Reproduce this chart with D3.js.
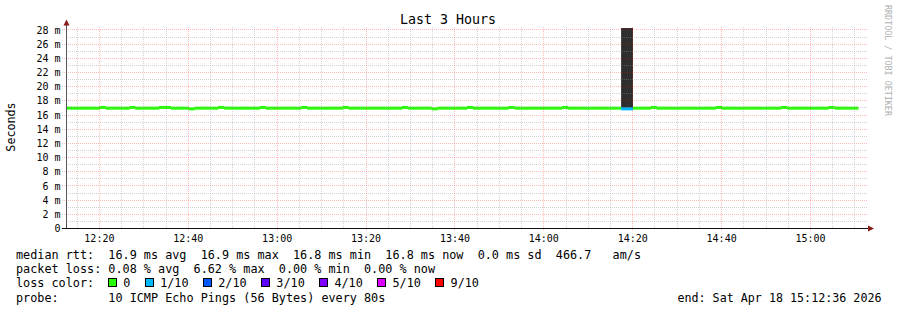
<!DOCTYPE html>
<html>
<head>
<meta charset="utf-8">
<script src="https://cdn.jsdelivr.net/npm/d3@7"></script>
<style>
  body { margin: 0; background: #fff; }
  svg text { font-family: "DejaVu Sans Mono", monospace; white-space: pre; }
</style>
</head>
<body>
<svg id="chart" width="897" height="310"></svg>
<script>
// time window shown (3 hours ending at 15:12:36)
var windowStart = new Date(2026, 3, 18, 12, 12, 36);
var windowEnd = new Date(2026, 3, 18, 15, 12, 36);

// first sample time and step (seconds)
var firstSample = new Date(2026, 3, 18, 12, 12, 10);
var stepSeconds = 80;

// median rtt per step, in ms
var median = [
  16.9, 16.9, 16.9, 16.9, 16.9, 16.9, 17.0, 16.9, 16.9, 16.9,
  16.9, 17.0, 16.9, 16.9, 16.9, 16.9, 17.0, 17.0, 16.9, 16.9,
  16.9, 16.8, 16.9, 16.9, 16.9, 16.9, 17.0, 16.9, 16.9, 16.9,
  16.9, 16.9, 16.9, 17.0, 16.9, 16.9, 16.9, 16.9, 16.9, 16.9,
  17.0, 16.9, 16.9, 16.9, 16.9, 16.9, 16.9, 17.0, 16.9, 16.9,
  16.9, 16.9, 16.9, 16.9, 16.9, 16.9, 16.9, 17.0, 16.9, 16.9,
  16.9, 16.9, 16.8, 16.9, 16.9, 16.9, 16.9, 16.9, 17.0, 16.9,
  16.9, 16.9, 16.9, 16.9, 16.9, 17.0, 16.9, 16.9, 16.9, 16.9,
  16.9, 16.9, 16.9, 16.9, 17.0, 16.9, 16.9, 16.9, 16.9, 16.9,
  16.9, 16.9, 16.9, 16.9, 16.8, 16.8, 16.9, 16.9, 16.9, 17.0,
  16.9, 16.9, 16.9, 16.9, 16.9, 16.9, 16.9, 16.9, 16.9, 16.9,
  17.0, 16.9, 16.9, 16.9, 16.9, 16.9, 16.9, 16.9, 16.9, 16.9,
  16.9, 17.0, 16.9, 16.9, 16.9, 16.9, 16.9, 16.9, 16.9, 17.0,
  16.9, 16.9, 16.9, 16.9
];

// lost pings (out of 10) per step, only steps with loss
var lossSteps = { 94: 1, 95: 1 };

// smoke max per step (ms), only the spike
var smokeMax = { 94: 30, 95: 30 };

var yTicks = [0, 2, 4, 6, 8, 10, 12, 14, 16, 18, 20, 22, 24, 26, 28];

var lossNames = ["0", "1/10", "2/10", "3/10", "4/10", "5/10", "9/10"];
var lossColors = ["#26ff00", "#00b8ff", "#0059ff", "#5e00ff", "#7e00ff", "#dd00ff", "#ff0000"];
var lossLevels = [0, 1, 2, 3, 4, 5, 9];

var statsLine = "median rtt:  16.9 ms avg  16.9 ms max  16.8 ms min  16.8 ms now  0.0 ms sd  466.7   am/s";
var lossLine = "packet loss: 0.08 % avg  6.62 % max  0.00 % min  0.00 % now";
var probeLine = "probe:       10 ICMP Echo Pings (56 Bytes) every 80s";
var endLine = "end: Sat Apr 18 15:12:36 2026";

var svg = d3.select("#chart");

var x = d3.scaleTime().domain([windowStart, windowEnd]).range([66, 866]);
var y = d3.scaleLinear().domain([0, 28.2]).range([228, 28]);

function stepTime(i) {
  return new Date(firstSample.getTime() + i * stepSeconds * 1000);
}

function colorFor(loss) {
  var idx = 0;
  for (var k = 0; k < lossLevels.length; k++) {
    if (loss >= lossLevels[k]) idx = k;
  }
  return lossColors[idx];
}

svg.append("defs").append("clipPath").attr("id", "plot")
  .append("rect").attr("x", 66).attr("y", 28).attr("width", 800).attr("height", 200);

var plot = svg.append("g").attr("clip-path", "url(#plot)");

// smoke spike
var spikeIdx = Object.keys(smokeMax).map(Number);
plot.selectAll(".smoke")
  .data(spikeIdx)
  .enter().append("rect")
    .attr("x", function(i) { return x(stepTime(i)); })
    .attr("width", function(i) { return x(stepTime(i + 1)) - x(stepTime(i)); })
    .attr("y", function(i) { return y(Math.min(smokeMax[i], 28.2)); })
    .attr("height", function(i) { return y(median[i]) - y(Math.min(smokeMax[i], 28.2)); })
    .attr("fill", "#2e2e2e");

// median line, one segment per step coloured by loss
plot.selectAll(".med")
  .data(median)
  .enter().append("rect")
    .attr("x", function(d, i) { return x(stepTime(i)); })
    .attr("width", function(d, i) { return x(stepTime(i + 1)) - x(stepTime(i)) + 0.3; })
    .attr("y", function(d) { return y(d) - 1.5; })
    .attr("height", 3)
    .attr("fill", function(d, i) { return colorFor(lossSteps[i] || 0); });

// grid
var minorCol = "rgba(150,150,150,0.42)", majorCol = "rgba(255,0,0,0.27)";
var grid = svg.append("g");
var minorY = d3.range(1, 29, 2);
grid.selectAll(".hmin").data(minorY).enter().append("line")
  .attr("x1", 66).attr("x2", 868)
  .attr("y1", function(d) { return Math.round(y(d)) + 0.5; })
  .attr("y2", function(d) { return Math.round(y(d)) + 0.5; })
  .attr("stroke", minorCol).attr("stroke-dasharray", "1,1");
grid.selectAll(".hmaj").data(yTicks.slice(1)).enter().append("line")
  .attr("x1", 62).attr("x2", 868)
  .attr("y1", function(d) { return Math.round(y(d)) + 0.5; })
  .attr("y2", function(d) { return Math.round(y(d)) + 0.5; })
  .attr("stroke", majorCol).attr("stroke-dasharray", "1,1");

var minorX = d3.timeMinute.every(5).range(windowStart, windowEnd).filter(function(t) { return t.getMinutes() % 20 !== 0; });
var majorX = d3.timeMinute.every(20).range(windowStart, windowEnd);
grid.selectAll(".vmin").data(minorX).enter().append("line")
  .attr("x1", function(d) { return Math.round(x(d)) + 0.5; })
  .attr("x2", function(d) { return Math.round(x(d)) + 0.5; })
  .attr("y1", 27).attr("y2", 228)
  .attr("stroke", minorCol).attr("stroke-dasharray", "1,1");
grid.selectAll(".vmaj").data(majorX).enter().append("line")
  .attr("x1", function(d) { return Math.round(x(d)) + 0.5; })
  .attr("x2", function(d) { return Math.round(x(d)) + 0.5; })
  .attr("y1", 27).attr("y2", 231)
  .attr("stroke", majorCol).attr("stroke-dasharray", "1,1");

// axes (built from d3 axes, then restyled rrdtool-like)
var yAxis = svg.append("g").attr("transform", "translate(60.5,0)")
  .call(d3.axisLeft(y).tickValues(yTicks).tickSize(0).tickPadding(0)
    .tickFormat(function(d) { return d === 0 ? "0" : d + " m"; }));
yAxis.select(".domain").remove();
yAxis.selectAll("text").attr("font-size", "10px").attr("font-family", "DejaVu Sans Mono")
  .attr("fill", "#000").attr("dy", "0.36em");

var xAxis = svg.append("g").attr("transform", "translate(0,232)")
  .call(d3.axisBottom(x).tickValues(majorX).tickSize(0).tickPadding(0)
    .tickFormat(d3.timeFormat("%H:%M")));
xAxis.select(".domain").remove();
xAxis.selectAll("text").attr("font-size", "10px").attr("font-family", "DejaVu Sans Mono")
  .attr("fill", "#000").attr("dy", "0.95em");

// axis lines + arrows
svg.append("line").attr("x1", 66.5).attr("x2", 66.5).attr("y1", 229).attr("y2", 25)
  .attr("stroke", "#555");
svg.append("line").attr("x1", 62).attr("x2", 868).attr("y1", 228.5).attr("y2", 228.5)
  .attr("stroke", "#111");
svg.append("path").attr("d", "M63.5,25.5 L66.5,19.5 L69.5,25.5 Z").attr("fill", "#8b1a1a");
svg.append("path").attr("d", "M868,225.5 L874,228.5 L868,231.5 Z").attr("fill", "#8b1a1a");

// titles
svg.append("text").attr("x", 448).attr("y", 23.5).attr("text-anchor", "middle")
  .attr("font-size", "13.3px").text("Last 3 Hours");
svg.append("text").attr("transform", "translate(14.5,127) rotate(-90)")
  .attr("text-anchor", "middle").attr("font-size", "11.7px").text("Seconds");
svg.append("text").attr("transform", "translate(885,5) rotate(90)")
  .attr("font-size", "8.4px").attr("fill", "#b0b0b0").text("RRDTOOL / TOBI OETIKER");

// legend
var lx = 16, fs = "11.8px";
svg.append("text").attr("x", lx).attr("y", 259).attr("font-size", fs).text(statsLine);
svg.append("text").attr("x", lx).attr("y", 273.2).attr("font-size", fs).text(lossLine);
svg.append("text").attr("x", lx).attr("y", 287.4).attr("font-size", fs).text("loss color:");
svg.append("text").attr("x", lx).attr("y", 301.6).attr("font-size", fs).text(probeLine);
svg.append("text").attr("x", 881.5).attr("y", 301.6).attr("text-anchor", "end")
  .attr("font-size", "11.7px").text(endLine);

var charW = 7.07;
var bx = 108, boxes = [];
lossNames.forEach(function(n, i) {
  boxes.push({ name: n, color: lossColors[i], x: bx });
  bx = bx + 15.3 + n.length * charW + 14.5;
});
var lg = svg.append("g");
lg.selectAll("rect").data(boxes).enter().append("rect")
  .attr("x", function(d) { return Math.round(d.x) + 0.5; }).attr("y", 278.5)
  .attr("width", 8).attr("height", 8)
  .attr("fill", function(d) { return d.color; }).attr("stroke", "#000");
lg.selectAll("text").data(boxes).enter().append("text")
  .attr("x", function(d) { return d.x + 15.3; }).attr("y", 287.4)
  .attr("font-size", fs).text(function(d) { return d.name; });
</script>
</body>
</html>
